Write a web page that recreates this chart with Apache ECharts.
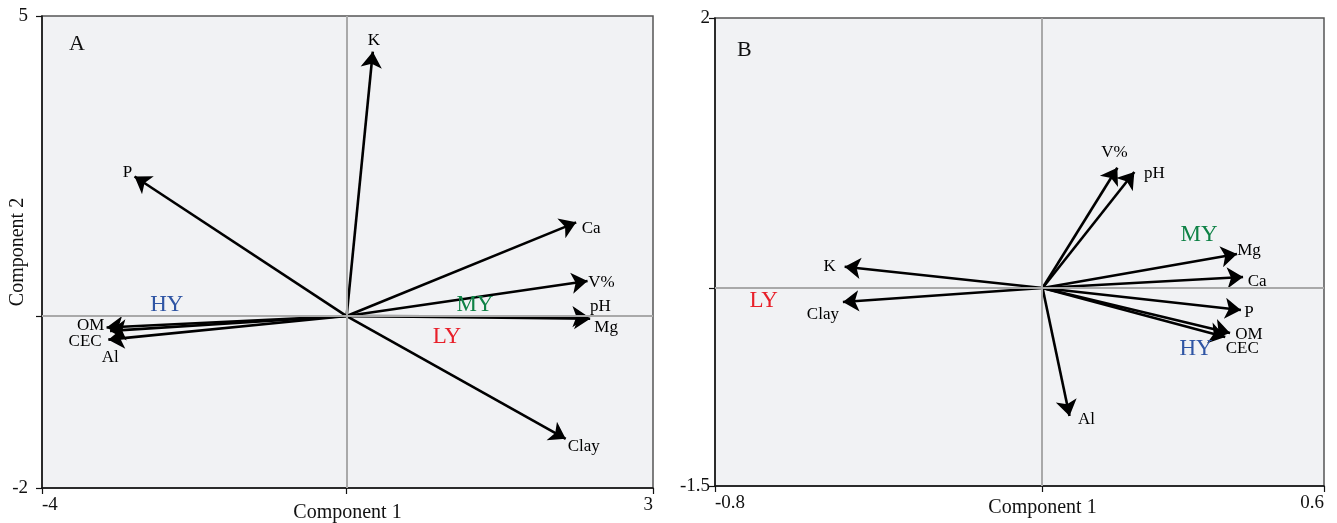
<!DOCTYPE html>
<html>
<head>
<meta charset="utf-8">
<script src="https://cdn.jsdelivr.net/npm/echarts@6/dist/echarts.min.js"></script>
<style>
  html, body { margin: 0; padding: 0; background: #fff; }
  #chart { width: 1337px; height: 523px; }
</style>
</head>
<body>
<div id="chart"></div>
<script>
// panel A loadings (axis units as printed on the chart)
const varsA = ['K', 'P', 'Ca', 'V%', 'pH', 'Mg', 'OM', 'CEC', 'Al', 'Clay'];
const pc1A = [-0.21, -2.94, 2.12, 2.25, 2.26, 2.28, -3.26, -3.22, -3.24, 2.00];
const pc2A = [4.47, 2.62, 1.94, 1.07, 0.54, 0.51, 0.38, 0.33, 0.20, -1.27];
const originA = [-0.51, 0.55];
const groupsA = ['HY', 'MY', 'LY'];
const gxA = [-2.57, 0.96, 0.64];
const gyA = [0.71, 0.71, 0.24];

// panel B loadings
const varsB = ['V%', 'pH', 'K', 'Clay', 'Mg', 'Ca', 'P', 'OM', 'CEC', 'Al'];
const pc1B = [0.125, 0.164, -0.502, -0.506, 0.400, 0.414, 0.409, 0.384, 0.373, 0.015];
const pc2B = [0.880, 0.848, 0.140, -0.124, 0.235, 0.063, -0.184, -0.356, -0.386, -0.977];
const originB = [-0.047, -0.019];
const groupsB = ['HY', 'MY', 'LY'];
const gxB = [0.306, 0.313, -0.688];
const gyB = [-0.478, 0.377, -0.116];

// axis ranges
const xRangeA = [-4, 3], yRangeA = [-2, 5];
const xRangeB = [-0.8, 0.6], yRangeB = [-1.5, 2];

// label nudges in pixels (dx, dy) from the arrow tip
const offA = {
  'K': [1, -11], 'P': [-7, -4], 'Ca': [15, 6], 'V%': [14, 2], 'pH': [12, -10],
  'Mg': [16, 9], 'OM': [-16, -2], 'CEC': [-25, 11], 'Al': [2, 18], 'Clay': [18, 8]
};
const offB = {
  'V%': [-3, -15], 'pH': [20, 1], 'K': [-15, 0], 'Clay': [-20, 13], 'Mg': [12, -3],
  'Ca': [14, 5], 'P': [8, 2], 'OM': [19, 2], 'CEC': [17, 11], 'Al': [17, 3]
};
const groupColors = { HY: '#2f55a4', MY: '#0f8246', LY: '#e8202a' };

const FONT = 'Liberation Serif';

function xAxisFor(idx, range, origin, nameGap, namePad) {
  return {
    type: 'value', gridIndex: idx, min: range[0], max: range[1],
    name: 'Component 1', nameLocation: 'middle', nameGap: nameGap, nameMoveOverlap: false,
    nameTextStyle: { fontFamily: FONT, fontSize: 20, color: '#111', padding: namePad, verticalAlign: 'top' },
    axisLine: { onZero: false, lineStyle: { color: '#111', width: 1.5 } },
    axisTick: { show: true, length: 6, customValues: [range[0], origin, range[1]], lineStyle: { color: '#111', width: 1.2 } },
    axisLabel: {
      customValues: [range[0], range[1]], margin: 8,
      fontFamily: FONT, fontSize: 19, color: '#111',
      alignMinLabel: 'left', alignMaxLabel: 'right'
    },
    splitLine: { show: false }
  };
}

function yAxisFor(idx, range, origin, margin, withName) {
  const ax = {
    type: 'value', gridIndex: idx, min: range[0], max: range[1],
    axisLine: { onZero: false, lineStyle: { color: '#111', width: 1.5 } },
    axisTick: { show: true, length: 6, customValues: [range[0], origin, range[1]], lineStyle: { color: '#111', width: 1.2 } },
    axisLabel: { customValues: [range[0], range[1]], margin: margin, fontFamily: FONT, fontSize: 19, color: '#111' },
    splitLine: { show: false }
  };
  if (withName) {
    ax.name = 'Component 2';
    ax.nameLocation = 'middle';
    ax.nameGap = 24;
    ax.nameMoveOverlap = false;
    ax.nameTextStyle = { fontFamily: FONT, fontSize: 20, color: '#111', verticalAlign: 'middle' };
  }
  return ax;
}

function panelSeries(idx, vars, pc1, pc2, origin, groups, gx, gy, offs) {
  return [
    {
      // crosshair through the origin
      type: 'scatter', xAxisIndex: idx, yAxisIndex: idx, z: 1,
      symbolSize: 0, data: [origin], silent: true,
      markLine: {
        silent: true, symbol: 'none', label: { show: false },
        lineStyle: { color: '#a9a9a9', width: 2, type: 'solid' },
        data: [{ xAxis: origin[0] }, { yAxis: origin[1] }]
      }
    },
    {
      type: 'lines', coordinateSystem: 'cartesian2d', xAxisIndex: idx, yAxisIndex: idx, z: 3,
      symbol: ['none', 'arrow'], symbolSize: 16, silent: true,
      lineStyle: { color: '#000', width: 2.6, opacity: 1, curveness: 0 },
      data: vars.map((v, i) => ({ name: v, coords: [origin, [pc1[i], pc2[i]]] }))
    },
    {
      type: 'scatter', xAxisIndex: idx, yAxisIndex: idx, z: 4, silent: true,
      symbolSize: 0, itemStyle: { color: 'transparent', opacity: 1 },
      data: vars.map((v, i) => ({
        name: v, value: [pc1[i], pc2[i]],
        label: { show: true, position: 'inside', offset: offs[v], formatter: v,
                 fontFamily: FONT, fontSize: 17, color: '#000', opacity: 1 }
      }))
    },
    {
      type: 'scatter', xAxisIndex: idx, yAxisIndex: idx, z: 4, silent: true,
      symbolSize: 0, itemStyle: { color: 'transparent', opacity: 1 },
      data: groups.map((g, i) => ({
        name: g, value: [gx[i], gy[i]],
        label: { show: true, position: 'inside', formatter: g,
                 fontFamily: FONT, fontSize: 23, color: groupColors[g], opacity: 1 }
      }))
    }
  ];
}

const chart = echarts.init(document.getElementById('chart'));
chart.setOption({
  animation: false,
  backgroundColor: '#fff',
  title: [
    { text: 'A', left: 64, top: 28, textStyle: { fontFamily: FONT, fontSize: 22, fontWeight: 'normal', color: '#111' } },
    { text: 'B', left: 732, top: 34, textStyle: { fontFamily: FONT, fontSize: 22, fontWeight: 'normal', color: '#111' } }
  ],
  grid: [
    { left: 42, top: 16, width: 611, height: 472, outerBoundsMode: 'none', containLabel: false, show: true, backgroundColor: '#f1f2f4', borderColor: '#555', borderWidth: 1.5 },
    { left: 715, top: 18, width: 609, height: 468, outerBoundsMode: 'none', containLabel: false, show: true, backgroundColor: '#f1f2f4', borderColor: '#555', borderWidth: 1.5 }
  ],
  xAxis: [
    xAxisFor(0, xRangeA, originA[0], 15, [0, 0, 0, 0]),
    xAxisFor(1, xRangeB, originB[0], 12, [0, 0, 0, 46])
  ],
  yAxis: [
    yAxisFor(0, yRangeA, originA[1], 14, true),
    yAxisFor(1, yRangeB, originB[1], 5, false)
  ],
  series: [].concat(
    panelSeries(0, varsA, pc1A, pc2A, originA, groupsA, gxA, gyA, offA),
    panelSeries(1, varsB, pc1B, pc2B, originB, groupsB, gxB, gyB, offB)
  )
});
</script>
</body>
</html>
